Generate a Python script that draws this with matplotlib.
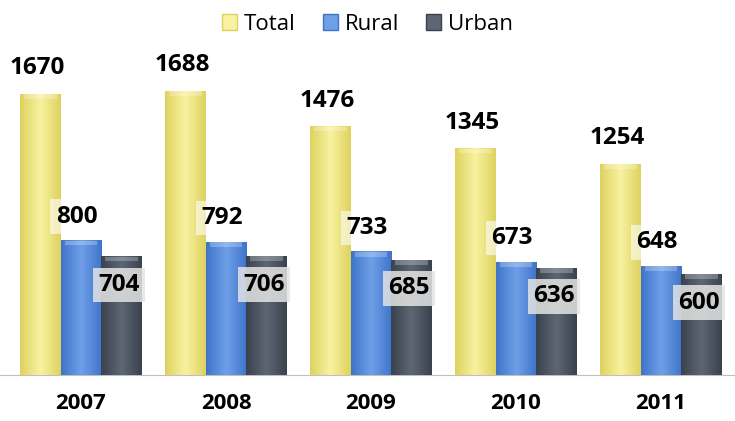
import numpy as np
import matplotlib
matplotlib.use("Agg")
import matplotlib.pyplot as plt
from matplotlib.colors import LinearSegmentedColormap
from matplotlib.patches import Patch

# ---------- данные ----------
years = ["2007", "2008", "2009", "2010", "2011"]
total = [1670, 1688, 1476, 1345, 1254]
rural = [800, 792, 733, 673, 648]
urban = [704, 706, 685, 636, 600]

series = ["Total", "Rural", "Urban"]
# (край, середина) для каждого ряда
colors = {
    "Total": ("#ded25e", "#f8f2a0"),
    "Rural": ("#3f74c9", "#6e9fe8"),
    "Urban": ("#3a424e", "#5d6673"),
}

plt.rcParams["font.family"] = ["Open Sans", "DejaVu Sans"]

W = 0.28
fig = plt.figure(figsize=(7.35, 4.21), dpi=100)
ax = fig.add_axes([0.0, 1 - 375 / 421, 1.0, 337 / 421])
ax.set_xlim(-81 / 145, 654 / 145)
ax.set_ylim(0, 2000)

x = np.arange(len(years))
grad = np.concatenate([np.linspace(0, 1, 50), np.linspace(1, 0, 50)])[None, :]

for k, (name, vals) in enumerate(zip(series, [total, rural, urban])):
    edge, mid = colors[name]
    cmap = LinearSegmentedColormap.from_list(name, [edge, mid])
    bars = ax.bar(x + (k - 1) * W, vals, W, color=mid, edgecolor="none", zorder=2)
    for b in bars:
        x0, w, h = b.get_x(), b.get_width(), b.get_height()
        im = ax.imshow(grad, cmap=cmap, aspect="auto",
                       extent=[x0, x0 + w, 0, h], zorder=3, interpolation="bicubic")
        im.set_clip_path(b)
        # светлая фаска сверху
        ax.bar(x0 + w / 2, 28, w * 0.8, bottom=h - 30, color="white",
               alpha=0.25, edgecolor="none", zorder=4)

# подписи значений
for i in range(len(years)):
    ax.text(x[i] - W - 0.02, total[i] + 150, str(total[i]), ha="center", va="center",
            fontsize=17.5, fontweight="bold", color="black", zorder=6)
    ax.text(x[i] - 0.03, rural[i] + 140, str(rural[i]), ha="center", va="center",
            fontsize=17.5, fontweight="bold", color="black", zorder=6,
            bbox=dict(boxstyle="square,pad=0.22", fc="white", ec="none", alpha=0.6))
    ax.text(x[i] + W - 0.02, urban[i] - 170, str(urban[i]), ha="center", va="center",
            fontsize=17.5, fontweight="bold", color="black", zorder=6,
            bbox=dict(boxstyle="square,pad=0.22", fc="#e4e4e4", ec="none", alpha=0.85))

ax.set_xticks(x)
ax.set_xticklabels(years, fontsize=16, fontweight="bold")
ax.tick_params(axis="x", length=0, pad=13)
ax.set_yticks([])
for s in ["top", "left", "right"]:
    ax.spines[s].set_visible(False)
ax.spines["bottom"].set_color("#bfbfbf")

handles = [Patch(facecolor=colors[n][1], edgecolor=colors[n][0], label=n) for n in series]
fig.legend(handles=handles, loc="center", bbox_to_anchor=(0.5, 1 - 24 / 421), ncol=3,
           frameon=False, fontsize=16, handlelength=0.7, handleheight=0.7,
           handletextpad=0.3, columnspacing=1.2)

fig.savefig("out.png", dpi=100)
